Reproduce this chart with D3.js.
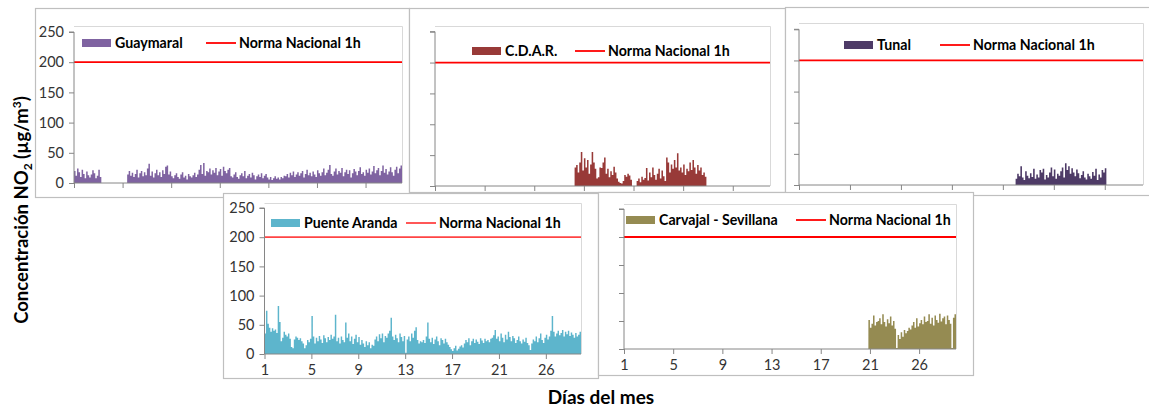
<!DOCTYPE html>
<html>
<head>
<meta charset="utf-8">
<script src="https://cdn.jsdelivr.net/npm/d3@7"></script>
<style>
  html, body { margin: 0; padding: 0; background: #fff; }
  svg { display: block; font-family: Lato, "Open Sans", sans-serif; }
</style>
</head>
<body>
<svg id="chart" width="1149" height="408"></svg>
<script>
// Hourly NO2 readings grouped in 3-hour slots (216 slots = 27 days).
const slotCount = 216;
const slotsPerTick = 32;                 // one labelled tick every 4 days
const dayLabels = ["1", "5", "9", "13", "17", "21", "26"];
const yTicks = [0, 50, 100, 150, 200, 250];
const normaNacional = 200;               // 1-hour national standard, µg/m³
const normaLabel = "Norma Nacional 1h";

const stations = ["Guaymaral", "C.D.A.R.", "Tunal", "Puente Aranda", "Carvajal - Sevillana"];

// Each series starts at a given slot index; null marks missing data.
const guaymaralStart = 0;
const guaymaralValues = [
  20, 12, 24, 18, 10, 22, 15, 8, 19, 13, 9, 14, 21, 16, 8, 12, 22, 10,
  null, null, null, null, null, null, null, null, null, null, null, null, null, null, null, null, null,
  14, 20, 12, 17, 10, 15, 22, 9, 16, 20, 11, 18, 13, 24, 32,
  12, 19, 9, 16, 22, 13, 18, 10, 21, 15, 27, 29, 14, 19,
  11, 8, 13, 16, 10, 7, 14, 18, 9, 12, 6, 15, 11, 9, 13, 17, 10, 14,
  22, 30, 15, 33, 12, 20,
  18, 24, 14, 21, 17, 25, 13, 19, 23, 12, 27, 20, 16, 22, 25, 11,
  9, 14, 18, 10, 7, 13, 16, 11, 20, 8, 12, 15, 9, 17, 13, 6, 11, 14, 10, 16, 8, 12, 15, 9,
  6, 10, 5, 8, 11, 7, 9, 6, 10, 8, 12,
  11, 15, 9, 17, 13, 19, 10, 14, 18, 12, 16, 20, 9, 15, 22, 13, 17, 11, 19, 14, 10, 21, 16, 12, 18, 24, 13, 17, 22, 30, 15,
  12, 19, 24, 14, 20, 17, 25, 11, 18, 22, 15, 21, 9, 16, 23, 19, 13, 20, 26, 15, 18, 12, 22, 17, 24, 14, 19, 28, 16, 21,
  25, 13, 20, 29, 17, 23, 14, 19, 26, 18, 12, 22, 27, 16, 24, 29
];

const cdarStart = 90;
const cdarValues = [
  30, 34, 22, 38, 55, 25, 45, 30, 42, 20, 35, 55, 38, 28, 12, 14,
  30, 29, 38, 46, 20, 28, 14, 24, 18, 31, 22, 12, 7, 5, 4, 8,
  18, 15, 20, 17, 10,
  null, null, null,
  8, 12, 6, 15, 10, 13, 29, 9, 22, 14, 30, 18, 10,
  20, 28, 12, 25, 16, 8, 46, 38, 22,
  35, 28, 42, 30, 53, 25, 30, 22, 35, 18, 28, 24,
  38, 26, 42, 30, 20, 34, 25, 30, 18, 22, 15
];

const tunalStart = 136;
const tunalValues = [
  10, 18, 14, 30, 12, 8, 22, 15, 11, 19,
  13, 26, 10, 17, 12, 24, 20, 26, 9, 16,
  12, 20, 28, 14, 25, 10, 18, 15, 22, 28, 12,
  35, 24, 30, 18, 27, 20, 14, 25, 19, 11, 16,
  22, 12, 9, 18, 14, 10, 21, 15, 26, 8, 17, 12, 24, 20, 27
];

const puenteArandaStart = 0;
const puenteArandaValues = [
  35, 74, 52, 45, 38, 44, 40, 42, 36, 82, 55, 22,
  28, 38, 33, 30, 35, 26, 12, 10, 25, 30, 28, 24, 27, 22, 18, 10,
  15, 24, 20, 26, 65, 30,
  18, 28, 22, 31, 25, 19, 32, 27, 20, 29, 24, 33, 26, 30, 67,
  22, 28, 18, 30, 24, 20, 54,
  28, 35, 22, 30, 17, 26, 33, 20, 29, 16, 24,
  18, 12, 22, 15, 20, 10, 16,
  14, 25, 30, 22, 34, 27, 35, 20, 31, 28, 35, 40, 62,
  30, 24, 33, 27, 20, 35, 29, 22, 31, 2, 25,
  30, 22, 35, 28, 40, 46, 24, 18, 22, 20, 24, 19, 30, 54, 26,
  20, 28, 17, 25, 30, 22, 15, 27, 24, 18, 26, 20, 16,
  12, 8, 5, 10, 14, 6, 9, 13, 15, 11,
  18, 24, 20, 27, 15, 22, 26, 19, 25, 21, 17, 27, 23, 19, 26, 22, 24, 20, 26, 28, 32, 41,
  26, 30, 22, 35, 28, 20, 33, 25, 38, 29, 22, 31, 27, 19, 24, 30, 22, 18, 25, 21, 28, 19, 15, 7,
  18, 25, 22, 30, 20, 27, 35, 24, 19, 28, 33, 25, 30, 40, 65,
  38, 30, 35, 40, 32, 36, 41, 30, 38, 34, 40, 31, 37, 33, 28, 36, 30, 33, 38
];

const carvajalStart = 159;
const carvajalValues = [
  52, 38, 45, 60, 42, 48, 50,
  55, 44, 62, 48, 40, 53, 46, 58, 42, 50, 36,
  2, 25, 18, 30, 22, 34, 28, 32, 38,
  35, 42, 48, 38, 55, 40, 46, 52, 44, 58, 48,
  50, 62, 45, 56, 42, 60, 52, 47, 63, 49, 55,
  58, 44, 60, 52, 45, 2, 56, 62
];

const seriesColors = ["#7f63a1", "#983a38", "#4e3b67", "#5db5cc", "#958b52"];

// Panel geometry, in drawing order (later panels sit on top of earlier ones).
const panels = [
  { name: stations[0], start: guaymaralStart, values: guaymaralValues, color: seriesColors[0],
    frame: [35, 8, 374, 189], left: 74, right: 402, top: 26, y250: 32, y0: 183,
    yLabels: true, xLabels: false, legendY: 43, sw: 82, lx: 206, lineColor: "#ff0000" },
  { name: stations[1], start: cdarStart, values: cdarValues, color: seriesColors[1],
    frame: [409, 8, 376, 184], left: 435, right: 770, top: 26, y250: 31.7, y0: 186,
    yLabels: false, xLabels: false, legendY: 51, sw: 472, lx: 575, lineColor: "#ff0000" },
  { name: stations[2], start: tunalStart, values: tunalValues, color: seriesColors[2],
    frame: [785, 7, 372, 188], left: 799, right: 1143, top: 23, y250: 29.3, y0: 185,
    yLabels: false, xLabels: false, legendY: 45, sw: 844, lx: 940, lineColor: "#ff0000" },
  { name: stations[3], start: puenteArandaStart, values: puenteArandaValues, color: seriesColors[3],
    frame: [223, 193, 375, 185], left: 264.5, right: 581, top: 203, y250: 208, y0: 354,
    yLabels: true, xLabels: true, legendY: 223, sw: 271, lx: 406, lineColor: "#ff4444" },
  { name: stations[4], start: carvajalStart, values: carvajalValues, color: seriesColors[4],
    frame: [598, 192, 375, 183], left: 624, right: 956, top: 204, y250: 209, y0: 349,
    yLabels: false, xLabels: true, legendY: 220, sw: 626, lx: 796, lineColor: "#ff0000" }
];

const svg = d3.select("#chart");

panels.forEach((p, i) => {
  const [fx, fy, fw, fh] = p.frame;
  const clipId = "frame-clip-" + i;
  svg.append("clipPath").attr("id", clipId)
    .append("rect").attr("x", fx).attr("y", fy).attr("width", fw).attr("height", fh);

  const g = svg.append("g");
  g.append("rect")
    .attr("x", fx + 0.5).attr("y", fy + 0.5).attr("width", fw).attr("height", fh)
    .attr("fill", "#fff").attr("stroke", "#bfbfbf").attr("stroke-width", 1.2);

  const inner = g.append("g").attr("clip-path", `url(#${clipId})`);

  const x = d3.scaleLinear().domain([0, slotCount]).range([p.left, p.right]);
  const y = d3.scaleLinear().domain([0, 250]).range([p.y0, p.y250]);

  // plot area border
  inner.append("path")
    .attr("d", `M${p.left},${p.top + 0.5}H${p.right + 0.5}V${p.y0}`)
    .attr("fill", "none").attr("stroke", "#d9d9d9").attr("stroke-width", 1);

  // hourly columns, drawn as one stepped area per run of valid readings
  const steps = [];
  p.values.forEach((v, k) => {
    const s = p.start + k;
    if (v === null) { steps.push({ s, v: null }); return; }
    steps.push({ s, v }, { s: s + 1, v });
  });
  const area = d3.area()
    .defined(d => d.v !== null)
    .x(d => x(d.s))
    .y0(y(0))
    .y1(d => y(d.v));
  inner.append("path").datum(steps)
    .attr("d", area)
    .attr("fill", p.color);

  // national standard line
  inner.append("line")
    .attr("x1", p.left).attr("x2", p.right)
    .attr("y1", y(normaNacional)).attr("y2", y(normaNacional))
    .attr("stroke", p.lineColor).attr("stroke-width", 1.8);

  // y axis
  const yAxis = d3.axisLeft(y).tickValues(yTicks).tickSize(5).tickPadding(5)
    .tickFormat(p.yLabels ? d3.format("d") : () => "");
  const ya = inner.append("g").attr("transform", `translate(${p.left},0)`).call(yAxis);
  ya.select(".domain").attr("stroke", "#868686").attr("d", `M-5,${p.y250}H0V${p.y0}`);
  ya.selectAll(".tick line").attr("stroke", "#868686");
  ya.selectAll(".tick text").attr("fill", "#333").style("font-size", "14.5px")
    .style("font-family", "Lato, sans-serif");

  // x axis
  const tickSlots = dayLabels.map((_, k) => k * slotsPerTick);
  const xAxis = d3.axisBottom(x).tickValues(tickSlots).tickSize(5).tickPadding(6)
    .tickFormat((d, k) => p.xLabels ? dayLabels[k] : "");
  const xa = inner.append("g").attr("transform", `translate(0,${p.y0})`).call(xAxis);
  xa.select(".domain").attr("stroke", "#868686").attr("d", `M${p.left},0H${p.right}`);
  xa.selectAll(".tick line").attr("stroke", "#868686");
  xa.selectAll(".tick text").attr("fill", "#333").style("font-size", "14.5px")
    .style("font-family", "Lato, sans-serif");

  // legend
  const lg = inner.append("g").style("font-family", "Lato, sans-serif")
    .style("font-weight", "bold").style("font-size", "14.2px");
  lg.append("rect").attr("x", p.sw).attr("y", p.legendY - 4).attr("width", 29).attr("height", 8)
    .attr("fill", p.color);
  lg.append("text").attr("x", p.sw + 33).attr("y", p.legendY).attr("dy", "0.35em")
    .attr("fill", "#000").text(p.name);
  lg.append("line").attr("x1", p.lx).attr("x2", p.lx + 30)
    .attr("y1", p.legendY).attr("y2", p.legendY)
    .attr("stroke", p.lineColor).attr("stroke-width", 1.8);
  lg.append("text").attr("x", p.lx + 33).attr("y", p.legendY).attr("dy", "0.35em")
    .attr("fill", "#000").text(normaLabel);
});

// shared axis titles
const yTitle = svg.append("text")
  .attr("transform", "translate(28,210) rotate(-90)")
  .attr("text-anchor", "middle")
  .style("font-family", "Lato, sans-serif").style("font-weight", "bold")
  .style("font-size", "18.5px").attr("fill", "#000");
yTitle.append("tspan").text("Concentración NO");
yTitle.append("tspan").attr("dy", 4).style("font-size", "12px").text("2");
yTitle.append("tspan").attr("dy", -4).text(" (µg/m");
yTitle.append("tspan").attr("dy", -7).style("font-size", "12px").text("3");
yTitle.append("tspan").attr("dy", 7).text(")");

svg.append("text")
  .attr("x", 601).attr("y", 404)
  .attr("text-anchor", "middle")
  .style("font-family", "Lato, sans-serif").style("font-weight", "bold")
  .style("font-size", "19px").attr("fill", "#000")
  .text("Días del mes");
</script>
</body>
</html>
